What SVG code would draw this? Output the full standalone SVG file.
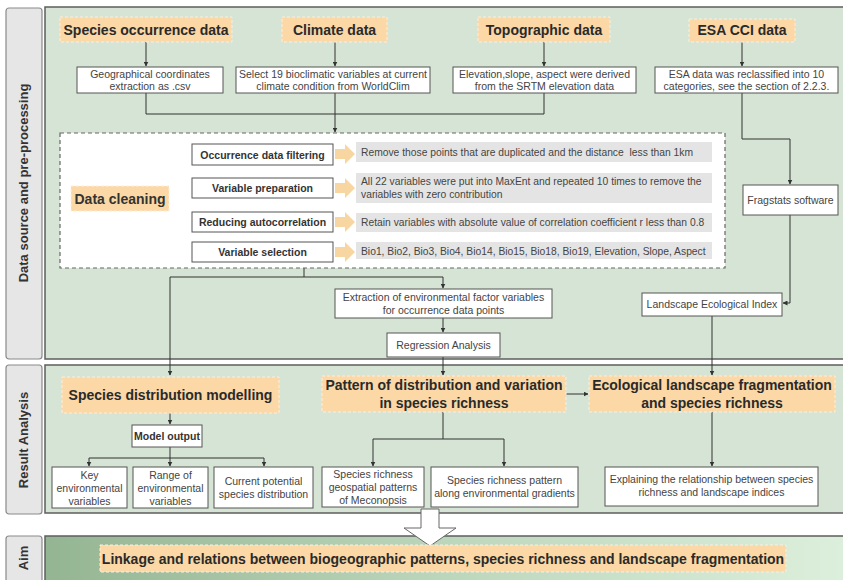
<svg xmlns="http://www.w3.org/2000/svg" width="843" height="580" viewBox="0 0 843 580">
<defs>
<marker id="ah" viewBox="0 0 10 10" refX="9" refY="5" markerWidth="5" markerHeight="5" orient="auto"><path d="M0,0 L10,5 L0,10 z" fill="#333"/></marker>
<linearGradient id="aimg" x1="0" y1="0" x2="1" y2="0"><stop offset="0" stop-color="#94b592"/><stop offset="0.5" stop-color="#bcd6bb"/><stop offset="1" stop-color="#dcefdc"/></linearGradient>
<style>
text{font-family:"Liberation Sans",Arial,sans-serif;fill:#333}
.lbl{fill:#e6e6e6;stroke:#8a8a8a;stroke-width:1.2}
.lt{font-size:13px;font-weight:bold;text-anchor:middle}
.panel{fill:#d5e4d4;stroke:#5e5e5e;stroke-width:1.5}
.hdr{fill:#fbd8a6;stroke:#fdeedd;stroke-width:1;stroke-dasharray:3 2}
.ht{font-size:14px;font-weight:bold;text-anchor:middle;fill:#2a2a2a}
.wb{fill:#fff;stroke:#555;stroke-width:1}
.st{font-size:10.5px;text-anchor:middle;fill:#444}
.sb{font-size:10.5px;font-weight:bold;text-anchor:middle;fill:#333}
.gb{fill:#e4e4e4}
.gt{font-size:10.3px;fill:#444}
.fa{fill:#f8d6a2}
.c{fill:none;stroke:#333;stroke-width:1}
.ca{fill:none;stroke:#333;stroke-width:1;marker-end:url(#ah)}
</style>
</defs>
<rect width="843" height="580" fill="#fff"/>

<g id="labels">
<rect class="lbl" x="6" y="8" width="36" height="351" rx="3"/>
<text class="lt" transform="translate(28,183) rotate(-90)">Data source and pre-processing</text>
<rect class="lbl" x="6" y="365" width="36" height="149" rx="3"/>
<text class="lt" transform="translate(28,440) rotate(-90)">Result Analysis</text>
<rect class="lbl" x="6" y="536" width="36" height="50" rx="3"/>
<text class="lt" transform="translate(28,558) rotate(-90)">Aim</text>
</g>

<g id="panels">
<rect class="panel" x="45" y="7" width="800" height="352"/>
<rect class="panel" x="45" y="365" width="800" height="148"/>
<rect x="45" y="536" width="800" height="50" fill="url(#aimg)" stroke="#5e5e5e" stroke-width="1.5"/>
</g>

<g id="connectors">
<path class="ca" d="M146,42 V66"/>
<path class="ca" d="M335,42 V66"/>
<path class="ca" d="M544,42 V66"/>
<path class="ca" d="M742,42 V66"/>
<path class="c" d="M146,93 V114 H544 V93"/>
<path class="ca" d="M335,93 V132"/>
<path class="c" d="M742,93 V139 H790"/>
<path class="ca" d="M790,139 V184"/>
<path class="c" d="M790,215 V303"/>
<path class="ca" d="M790,303 H783"/>
<path class="c" d="M169,198 H182"/>
<path class="c" d="M182,154 V252"/>
<path class="ca" d="M182,154 H191"/>
<path class="ca" d="M182,188 H191"/>
<path class="ca" d="M182,222 H191"/>
<path class="ca" d="M182,252 H191"/>
<path class="ca" d="M263,165 V177"/>
<path class="ca" d="M263,198 V211"/>
<path class="ca" d="M263,232 V241"/>
<path class="c" d="M304,268 V277 M170,277 H443"/>
<path class="ca" d="M443,277 V288"/>
<path class="ca" d="M170,277 V375"/>
<path class="ca" d="M443,318 V332"/>
<path class="ca" d="M443,357 V375"/>
<path class="ca" d="M712,316 V375"/>
<path class="ca" d="M566,394 H588"/>
<path class="ca" d="M170,413 V424"/>
<path class="c" d="M170,447 V458 M89,458 H264"/>
<path class="ca" d="M89,458 V466"/>
<path class="ca" d="M170,458 V466"/>
<path class="ca" d="M264,458 V466"/>
<path class="c" d="M443,412 V439 M373,439 H504"/>
<path class="ca" d="M373,439 V466"/>
<path class="ca" d="M504,439 V466"/>
<path class="ca" d="M712,412 V466"/>
</g>

<g id="hdr-species"><rect class="hdr" x="60" y="17" width="172" height="25"/><text class="ht" x="146" y="35">Species occurrence data</text></g>
<g id="hdr-climate"><rect class="hdr" x="282" y="17" width="105" height="25"/><text class="ht" x="334.5" y="35">Climate data</text></g>
<g id="hdr-topo"><rect class="hdr" x="478" y="17" width="132" height="25"/><text class="ht" x="544" y="35">Topographic data</text></g>
<g id="hdr-esa"><rect class="hdr" x="689" y="19" width="106" height="23"/><text class="ht" x="742" y="35">ESA CCI data</text></g>

<g id="box-geo"><rect class="wb" x="77" y="67" width="146" height="26"/><text class="st" x="150" y="78">Geographical coordinates</text><text class="st" x="150" y="90">extraction as .csv</text></g>
<g id="box-clim"><rect class="wb" x="236" y="67" width="194" height="26"/><text class="st" x="333" y="78">Select 19 bioclimatic variables at current</text><text class="st" x="333" y="90">climate condition from WorldClim</text></g>
<g id="box-topo"><rect class="wb" x="453" y="67" width="183" height="26"/><text class="st" x="544.5" y="78">Elevation,slope, aspect were derived</text><text class="st" x="544.5" y="90">from the SRTM elevation data</text></g>
<g id="box-esa"><rect class="wb" x="655" y="67" width="183" height="26"/><text class="st" x="746.5" y="78">ESA data was reclassified into 10</text><text class="st" x="746.5" y="90">categories, see the section of 2.2.3.</text></g>

<g id="data-cleaning">
<rect x="60" y="133" width="665" height="135" fill="#fff" stroke="#666" stroke-width="1.2" stroke-dasharray="4 3"/>
<rect class="hdr" x="71" y="186" width="98" height="25"/>
<text x="120" y="204" font-size="14" font-weight="bold" text-anchor="middle">Data cleaning</text>
</g>

<g id="step1"><rect class="wb" x="192" y="144" width="141" height="21"/><text class="sb" x="262.5" y="158.5">Occurrence data filtering</text></g>
<g id="step2"><rect class="wb" x="192" y="178" width="141" height="20"/><text class="sb" x="262.5" y="192">Variable preparation</text></g>
<g id="step3"><rect class="wb" x="192" y="212" width="141" height="20"/><text class="sb" x="262.5" y="226">Reducing autocorrelation</text></g>
<g id="step4"><rect class="wb" x="192" y="242" width="141" height="20"/><text class="sb" x="262.5" y="256">Variable selection</text></g>

<g id="fat-arrows">
<polygon class="fa" points="335,149 345,149 345,144 355,154 345,164 345,159 335,159"/>
<polygon class="fa" points="335,183 345,183 345,178 355,188 345,198 345,193 335,193"/>
<polygon class="fa" points="335,217 345,217 345,212 355,222 345,232 345,227 335,227"/>
<polygon class="fa" points="335,247 345,247 345,242 355,252 345,262 345,257 335,257"/>
</g>

<g id="note1"><rect class="gb" x="356" y="142" width="356" height="20"/><text class="gt" x="361" y="156">Remove those points that are duplicated and the distance&#160; less than 1km</text></g>
<g id="note2"><rect class="gb" x="356" y="173" width="356" height="30"/><text class="gt" x="361" y="185">All 22 variables were put into MaxEnt and repeated 10 times to remove the</text><text class="gt" x="361" y="198">variables with zero contribution</text></g>
<g id="note3"><rect class="gb" x="356" y="213" width="356" height="19"/><text class="gt" x="361" y="226">Retain variables with absolute value of correlation coefficient r less than 0.8</text></g>
<g id="note4"><rect class="gb" x="356" y="242" width="356" height="17"/><text class="gt" x="361" y="254.5">Bio1, Bio2, Bio3, Bio4, Bio14, Bio15, Bio18, Bio19, Elevation, Slope, Aspect</text></g>

<g id="fragstats"><rect class="wb" x="743" y="185" width="95" height="30"/><text class="st" x="790.5" y="204">Fragstats software</text></g>
<g id="landscape-index"><rect class="wb" x="642" y="293" width="140" height="23"/><text class="st" x="712" y="308">Landscape Ecological Index</text></g>
<g id="extraction"><rect class="wb" x="335" y="289" width="217" height="29"/><text class="st" x="443.5" y="301">Extraction of environmental factor variables</text><text class="st" x="443.5" y="314">for occurrence data points</text></g>
<g id="regression"><rect class="wb" x="387" y="333" width="113" height="24"/><text class="st" x="443.5" y="349">Regression Analysis</text></g>

<g id="hdr-sdm"><rect class="hdr" x="62" y="377" width="217" height="36"/><text class="ht" x="170.5" y="400">Species distribution modelling</text></g>
<g id="hdr-pattern"><rect class="hdr" x="322" y="376" width="244" height="36"/><text class="ht" x="444" y="390">Pattern of distribution and variation</text><text class="ht" x="444" y="408">in species richness</text></g>
<g id="hdr-eco"><rect class="hdr" x="589" y="376" width="246" height="36"/><text class="ht" x="712" y="390">Ecological landscape fragmentation</text><text class="ht" x="712" y="408">and species richness</text></g>

<g id="model-output"><rect class="wb" x="132" y="425" width="70" height="22"/><text class="sb" x="167" y="440">Model output</text></g>
<g id="key-env"><rect class="wb" x="52" y="467" width="75" height="41"/><text class="st" x="89.5" y="479">Key</text><text class="st" x="89.5" y="492">environmental</text><text class="st" x="89.5" y="505">variables</text></g>
<g id="range-env"><rect class="wb" x="133" y="467" width="75" height="41"/><text class="st" x="170.5" y="479">Range of</text><text class="st" x="170.5" y="492">environmental</text><text class="st" x="170.5" y="505">variables</text></g>
<g id="current-dist"><rect class="wb" x="214" y="467" width="99" height="41"/><text class="st" x="263.5" y="485">Current potential</text><text class="st" x="263.5" y="498">species distribution</text></g>
<g id="geospatial"><rect class="wb" x="322" y="467" width="102" height="40"/><text class="st" x="373" y="478">Species richness</text><text class="st" x="373" y="491">geospatial patterns</text><text class="st" x="373" y="504">of Meconopsis</text></g>
<g id="gradients"><rect class="wb" x="431" y="467" width="147" height="40"/><text class="st" x="504.5" y="484">Species richness pattern</text><text class="st" x="504.5" y="497">along environmental gradients</text></g>
<g id="explaining"><rect class="wb" x="605" y="467" width="213" height="39"/><text class="st" x="711.5" y="483">Explaining the relationship between species</text><text class="st" x="711.5" y="496">richness and landscape indices</text></g>

<g id="big-arrow"><polygon points="421,509 439,509 439,528 456,528 430,546 404,528 421,528" fill="#fff" stroke="#666" stroke-width="1"/></g>

<g id="aim"><rect class="hdr" x="100" y="545" width="686" height="27"/><text class="ht" x="443" y="564">Linkage and relations between biogeographic patterns, species richness and landscape fragmentation</text></g>
</svg>
